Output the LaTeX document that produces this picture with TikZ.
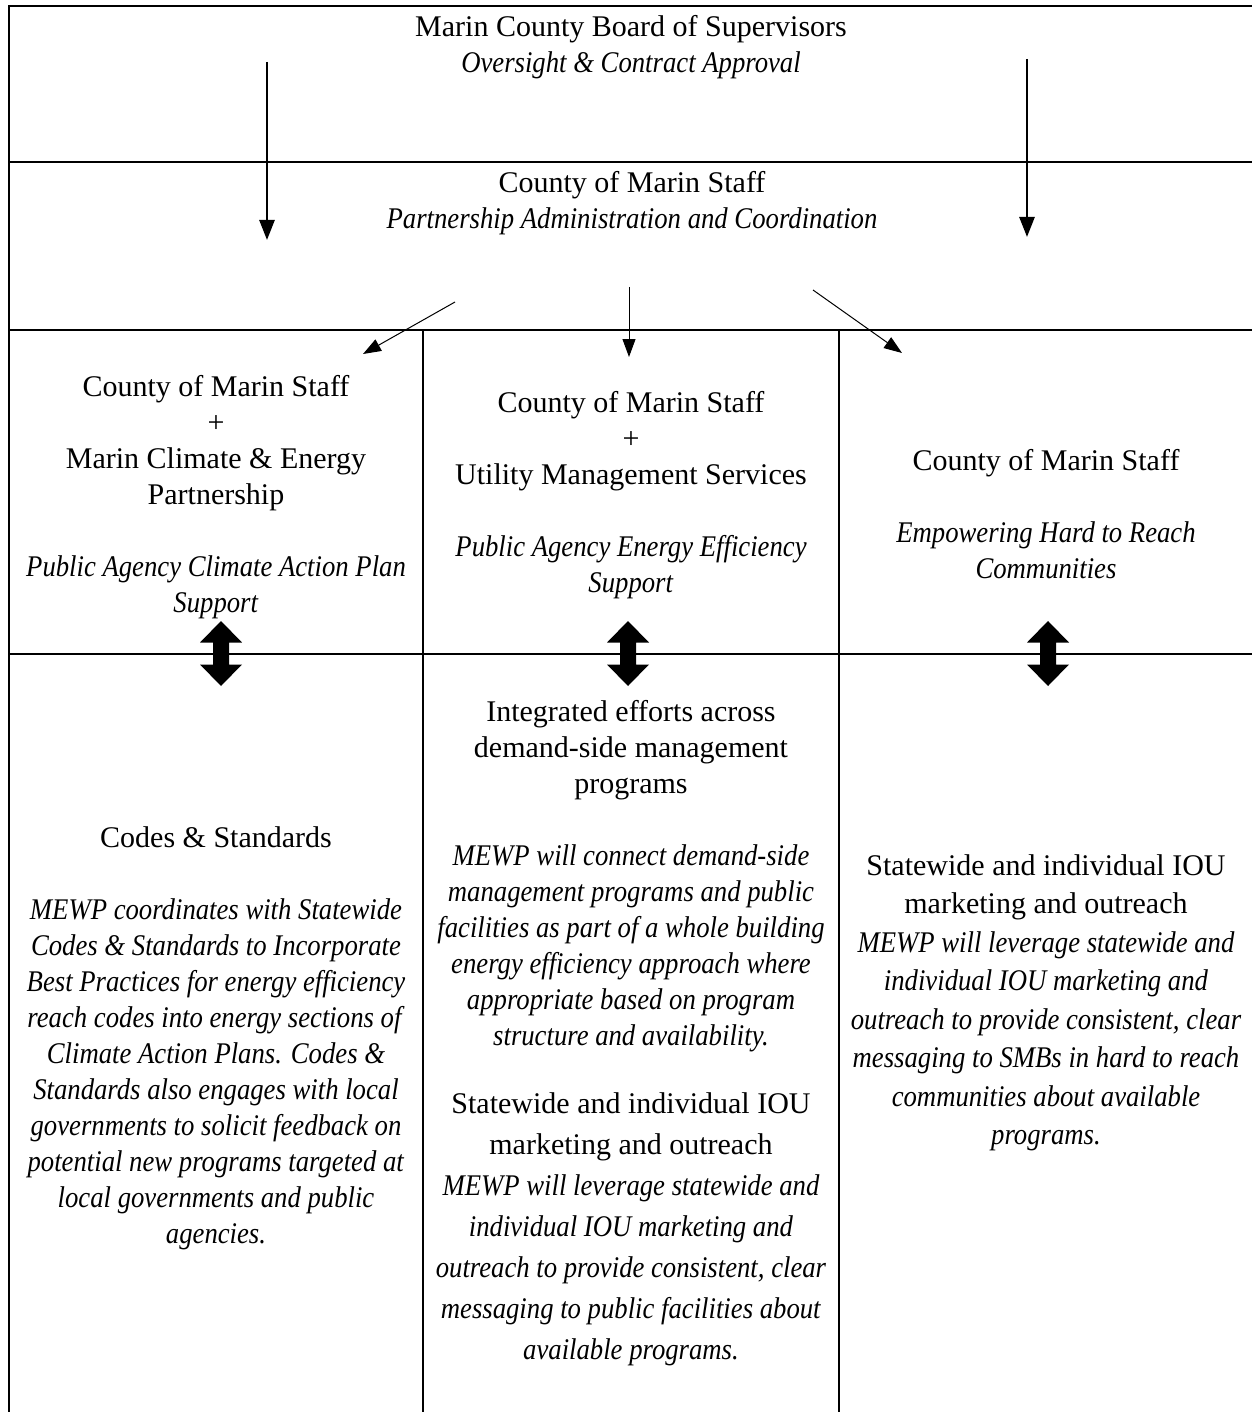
\documentclass[tikz,border=0pt]{standalone}
\usepackage{fontspec}
\setmainfont{Liberation Serif}[ItalicFeatures={FakeStretch=0.89}]
\usetikzlibrary{arrows.meta}
\tikzset{
  txt/.style={align=center, inner sep=0pt, font=\fontsize{30}{36}\selectfont},
  txtm/.style={align=center, inner sep=0pt, font=\fontsize{30}{38.5}\selectfont},
  txtw/.style={align=center, inner sep=0pt, font=\fontsize{30}{41}\selectfont},
  frame/.style={line width=2.6pt},
  divider/.style={line width=1.8pt},
  bigarrow/.style={line width=2.6pt, -{Triangle[length=20pt,width=15pt]}},
  thinarrow/.style={line width=1pt, -{Triangle[length=18pt,width=13pt]}},
  dbl/.style={fill=black, draw=none}
}
\newcommand{\dblarr}[2]{%
  \fill[dbl] (#1,#2-32.5) -- (#1+21,#2-11) -- (#1+8,#2-11) -- (#1+8,#2+11) -- (#1+21,#2+11)
    -- (#1,#2+32.5) -- (#1-21,#2+11) -- (#1-8,#2+11) -- (#1-8,#2-11) -- (#1-21,#2-11) -- cycle;}
\begin{document}
\begin{tikzpicture}[x=1pt,y=-1pt]
\useasboundingbox (0,0) rectangle (1252,1412);
\fill[white] (0,0) rectangle (1252,1412);
% frame and grid
\draw[frame] (9,1412) -- (9,6) -- (1252,6);
\draw[frame] (9,162) -- (1252,162);
\draw[frame] (9,330) -- (1252,330);
\draw[divider] (9,654) -- (1252,654);
\draw[divider] (423,330) -- (423,1412);
\draw[divider] (839,330) -- (839,1412);

% texts
\node[txt] (t1) at (631,47) {Marin County Board of Supervisors\\ \textit{Oversight \& Contract Approval}};
\node[txt] (t2) at (632,203) {County of Marin Staff\\ \textit{Partnership Administration and Coordination}};

\node[txt] (c1a) at (216,497) {County of Marin Staff\\ +\\ Marin Climate \& Energy\\ Partnership\\[36pt] \textit{Public Agency Climate Action Plan}\\ \textit{Support}};
\node[txt] (c2a) at (631,495) {County of Marin Staff\\ +\\ Utility Management Services\\[36pt] \textit{Public Agency Energy Efficiency}\\ \textit{Support}};
\node[txt] (c3a) at (1046,514) {County of Marin Staff\\[36pt] \textit{Empowering Hard to Reach}\\ \textit{Communities}};

\node[txt] (c1b) at (216,1038) {Codes \& Standards\\[36pt]
 \textit{MEWP coordinates with Statewide}\\
 \textit{Codes \& Standards to Incorporate}\\
 \textit{Best Practices for energy efficiency}\\
 \textit{reach codes into energy sections of}\\
 \textit{Climate Action Plans. Codes \&}\\
 \textit{Standards also engages with local}\\
 \textit{governments to solicit feedback on}\\
 \textit{potential new programs targeted at}\\
 \textit{local governments and public}\\
 \textit{agencies.}};

\node[txt] (c2b1) at (631,876) {Integrated efforts across\\ demand-side management\\ programs\\[36pt]
 \textit{MEWP will connect demand-side}\\
 \textit{management programs and public}\\
 \textit{facilities as part of a whole building}\\
 \textit{energy efficiency approach where}\\
 \textit{appropriate based on program}\\
 \textit{structure and availability.}};

\node[txtw] (c2b2) at (631,1229) {Statewide and individual IOU\\ marketing and outreach\\
 \textit{MEWP will leverage statewide and}\\
 \textit{individual IOU marketing and}\\
 \textit{outreach to provide consistent, clear}\\
 \textit{messaging to public facilities about}\\
 \textit{available programs.}};

\node[txtm] (c3b) at (1046,1003) {Statewide and individual IOU\\ marketing and outreach\\
 \textit{MEWP will leverage statewide and}\\
 \textit{individual IOU marketing and}\\
 \textit{outreach to provide consistent, clear}\\
 \textit{messaging to SMBs in hard to reach}\\
 \textit{communities about available}\\
 \textit{programs.}};

% arrows
\coordinate (va1) at (267,62);  \coordinate (vb1) at (267,240);
\coordinate (va2) at (1027,59); \coordinate (vb2) at (1027,237);
\draw[bigarrow] (va1) -- (vb1);
\draw[bigarrow] (va2) -- (vb2);

\coordinate (d1s) at (455,302); \coordinate (d1e) at (363,354);
\coordinate (d2s) at (629,287); \coordinate (d2e) at (629,357);
\coordinate (d3s) at (813,290); \coordinate (d3e) at (902,353);
\draw[thinarrow] (d1s) -- (d1e);
\draw[thinarrow] (d2s) -- (d2e);
\draw[thinarrow] (d3s) -- (d3e);

\dblarr{221}{653.5}
\dblarr{628}{653.5}
\dblarr{1048}{653.5}
\end{tikzpicture}
\end{document}
